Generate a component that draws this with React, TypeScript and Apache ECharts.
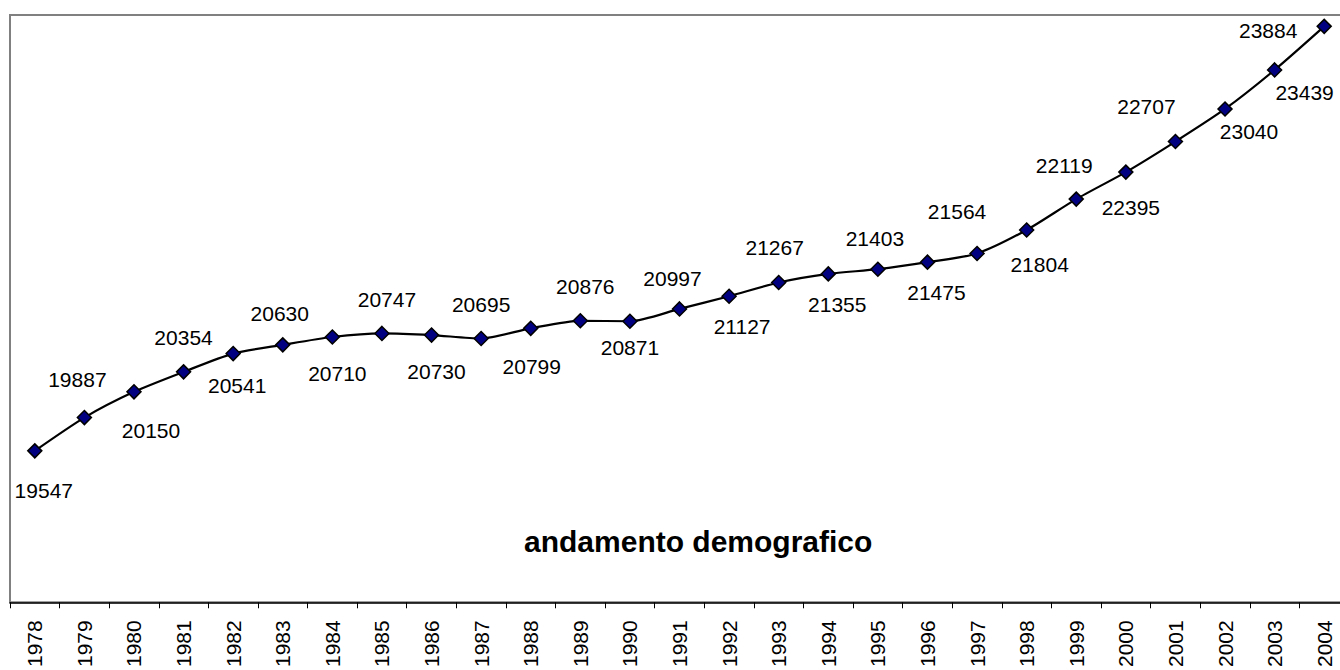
import React, { useEffect, useRef } from "react";
import * as echarts from "echarts";

const years = [
  "1978", "1979", "1980", "1981", "1982", "1983", "1984", "1985", "1986",
  "1987", "1988", "1989", "1990", "1991", "1992", "1993", "1994", "1995",
  "1996", "1997", "1998", "1999", "2000", "2001", "2002", "2003", "2004",
];

const population = [
  19547, 19887, 20150, 20354, 20541, 20630, 20710, 20747, 20730, 20695,
  20799, 20876, 20871, 20997, 21127, 21267, 21355, 21403, 21475, 21564,
  21804, 22119, 22395, 22707, 23040, 23439, 23884,
];

// label placement relative to the marker centre (layout only)
const labelOffsets: [number, number][] = [
  [9, 40], [-7, -38], [17, 39], [0, -34], [4, 32], [-3, -31], [5, 36],
  [5, -34], [5, 36], [0, -34], [1, 38], [5, -34], [0, 26], [-7, -30],
  [13, 30], [-4, -35], [9, 31], [-3, -31], [9, 30], [-20, -42], [13, 35],
  [-12, -34], [5, 35], [-29, -35], [24, 23], [30, 23], [-56, 4],
];

const chartTitle = "andamento demografico";

export default function App() {
  const ref = useRef<HTMLDivElement>(null);

  useEffect(() => {
    if (!ref.current) return;
    const chart = echarts.init(ref.current, null, { renderer: "svg" });
    const font = "'Liberation Sans', Arial, Helvetica, sans-serif";
    chart.setOption({
      animation: false,
      backgroundColor: "#ffffff",
      title: {
        text: chartTitle,
        left: 524,
        top: 526,
        padding: 0,
        textStyle: {
          fontFamily: font,
          fontSize: 30,
          fontWeight: "bold",
          color: "#000000",
        },
      },
      grid: {
        show: true,
        left: 10,
        top: 15,
        right: 0,
        bottom: 65,
        borderColor: "#808080",
        borderWidth: 2,
        backgroundColor: "transparent",
      },
      xAxis: {
        type: "category",
        data: years,
        boundaryGap: true,
        axisLine: { show: true, lineStyle: { color: "#000000", width: 1.5 } },
        axisTick: {
          show: true,
          length: 6,
          alignWithLabel: false,
          lineStyle: { color: "#000000", width: 1 },
        },
        axisLabel: {
          rotate: 90,
          margin: 18,
          fontFamily: font,
          fontSize: 21,
          color: "#000000",
          interval: 0,
        },
        splitLine: { show: false },
      },
      yAxis: {
        type: "value",
        min: 18000,
        max: 24000,
        show: false,
      },
      series: [
        {
          type: "line",
          data: population.map((v, i) => ({
            value: v,
            label: {
              offset: labelOffsets[i],
            },
          })),
          smooth: 0.25,
          symbol: "diamond",
          symbolSize: 14,
          lineStyle: { color: "#000000", width: 2.2 },
          itemStyle: { color: "#000080", borderColor: "#000000", borderWidth: 1.5 },
          label: {
            show: true,
            position: "inside",
            align: "center",
            verticalAlign: "middle",
            fontFamily: font,
            fontSize: 21,
            color: "#000000",
          },
        },
      ],
    });
    return () => chart.dispose();
  }, []);

  return (
    <div
      style={{
        position: "absolute",
        left: 0,
        top: 0,
        width: 1340,
        height: 670,
        overflow: "hidden",
      }}
    >
      <div ref={ref} style={{ width: 1349, height: 670 }} />
    </div>
  );
}
